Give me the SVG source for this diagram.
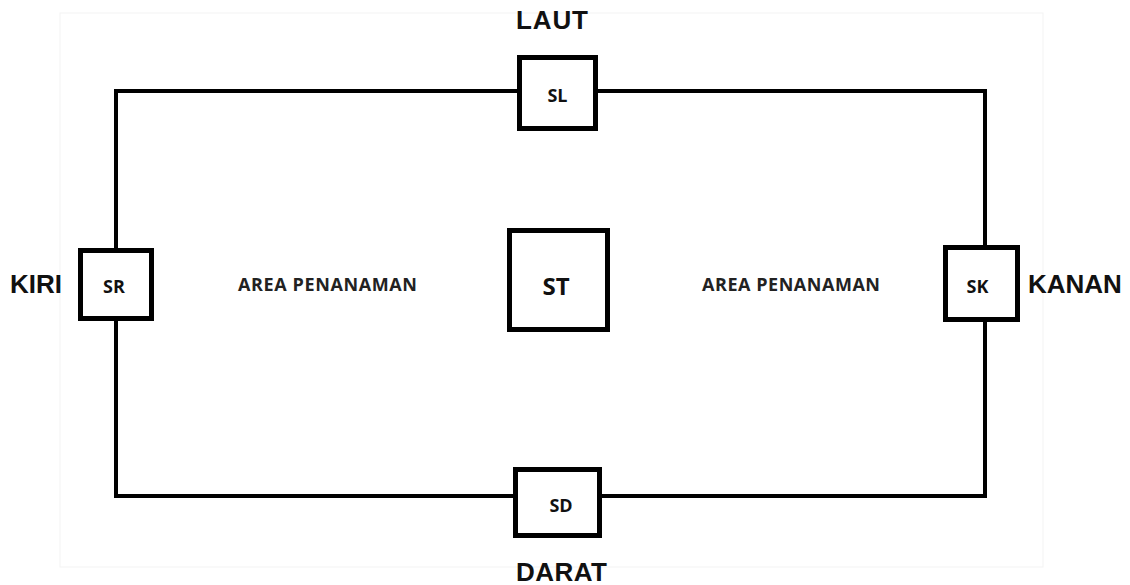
<svg xmlns="http://www.w3.org/2000/svg" width="1130" height="585" viewBox="0 0 1130 585">
  <style>
    .box { fill: #ffffff; stroke: #000000; stroke-width: 5; }
    .wire { fill: none; stroke: #000000; stroke-width: 4; }
    .lbl { font-family: "Open Sans", "Liberation Sans", sans-serif; font-weight: bold; fill: #111111; text-anchor: middle; }
    .side { font-family: "Liberation Sans", Arial, sans-serif; font-weight: bold; fill: #111111; font-size: 26px; }
    .area { font-family: "Open Sans", "Liberation Sans", sans-serif; font-weight: bold; fill: #222222; font-size: 18px; }
  </style>
  <rect width="1130" height="585" fill="#ffffff"/>
  <rect x="60" y="13" width="983" height="554" fill="none" stroke="#f3f3f3" stroke-width="1"/>
  <g id="connectors">
    <polyline class="wire" points="519,91 116,91 116,250"/>
    <polyline class="wire" points="596,91 985,91 985,247"/>
    <polyline class="wire" points="116,318 116,496 515,496"/>
    <polyline class="wire" points="985,320 985,496 600,496"/>
  </g>
  <g id="SL">
    <rect class="box" x="519.5" y="57.5" width="76" height="71"/>
    <text class="lbl" x="557.5" y="102" font-size="18">SL</text>
  </g>
  <g id="SR">
    <rect class="box" x="80.5" y="250.5" width="71" height="68"/>
    <text class="lbl" x="114" y="293" font-size="18">SR</text>
  </g>
  <g id="SK">
    <rect class="box" x="945.5" y="247.5" width="72" height="72"/>
    <text class="lbl" x="977.5" y="293" font-size="18">SK</text>
  </g>
  <g id="SD">
    <rect class="box" x="515.5" y="469.5" width="84" height="66"/>
    <text class="lbl" x="561" y="512" font-size="18">SD</text>
  </g>
  <g id="ST">
    <rect class="box" x="509.5" y="230.5" width="98" height="99"/>
    <text class="lbl" x="556" y="295" font-size="24">ST</text>
  </g>
  <g id="labels">
    <text class="side" x="516" y="29" textLength="72">LAUT</text>
    <text class="side" x="516" y="581" textLength="91">DARAT</text>
    <text class="side" x="10" y="293">KIRI</text>
    <text class="side" x="1028" y="293">KANAN</text>
    <text class="area" x="238" y="291" textLength="179">AREA PENANAMAN</text>
    <text class="area" x="702" y="291" textLength="178">AREA PENANAMAN</text>
  </g>
</svg>
